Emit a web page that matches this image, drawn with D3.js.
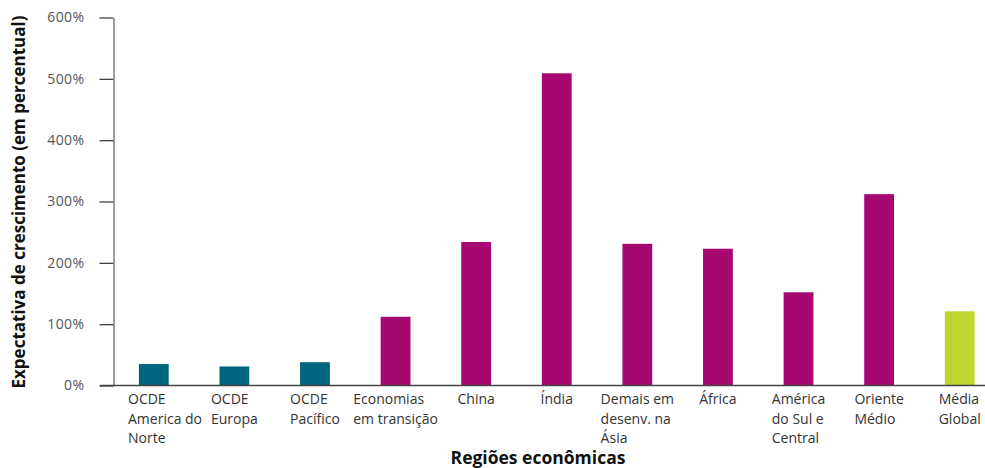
<!DOCTYPE html>
<html>
<head>
<meta charset="utf-8">
<script src="https://cdn.jsdelivr.net/npm/d3@7"></script>
<style>
  body { margin: 0; background: #fff; }
  svg { display: block; font-family: "Open Sans", sans-serif; }
</style>
</head>
<body>
<svg id="chart" width="985" height="468"></svg>
<script>
// regions and expected growth (%)
const regions = [
    "OCDE America do Norte", "OCDE Europa", "OCDE Pacífico", "Economias em transição",
    "China", "Índia", "Demais em desenv. na Ásia", "África",
    "América do Sul e Central", "Oriente Médio", "Média Global"
];
const labelLines = [
    ["OCDE", "America do", "Norte"], ["OCDE", "Europa"], ["OCDE", "Pacífico"],
    ["Economias", "em transição"], ["China"], ["Índia"], ["Demais em", "desenv. na", "Ásia"],
    ["África"], ["América", "do Sul e", "Central"], ["Oriente", "Médio"], ["Média", "Global"]
];
const growth = [35, 31, 38, 112, 234, 509, 231, 223, 152, 312, 121];
const groups = ["ocde", "ocde", "ocde", "dev", "dev", "dev", "dev", "dev", "dev", "dev", "global"];
const yTicks = [0, 100, 200, 300, 400, 500, 600];

const groupColor = { ocde: "#00667e", dev: "#a50870", global: "#bfd531" };

const svg = d3.select("#chart");

const x = d3.scaleBand()
    .domain(regions)
    .range([113.5, 1000])
    .paddingInner(0.63)
    .paddingOuter(0.315);

const y = d3.scaleLinear()
    .domain([0, 600])
    .range([385.5, 17.5]);

// y axis
const yAxis = svg.append("g")
    .attr("transform", "translate(113.5,0)")
    .call(d3.axisLeft(y).tickValues(yTicks).tickFormat(d => d + "%")
        .tickSize(14).tickSizeOuter(0).tickPadding(15));
yAxis.select(".domain").attr("stroke", "#666").attr("stroke-width", 1.3);
yAxis.selectAll(".tick line").attr("stroke", "#444").attr("stroke-width", 1.3);
yAxis.selectAll(".tick text")
    .attr("fill", "#555")
    .style("font-size", "14px")
    .style("letter-spacing", "0.4px")
    .style("font-family", "'Open Sans', sans-serif");

// bars
svg.append("g")
    .selectAll("rect")
    .data(regions)
    .join("rect")
    .attr("x", d => x(d))
    .attr("width", x.bandwidth())
    .attr("y", (d, i) => y(growth[i]))
    .attr("height", (d, i) => y(0) - y(growth[i]))
    .attr("fill", (d, i) => groupColor[groups[i]]);

// x axis line
svg.append("line")
    .attr("x1", 100).attr("x2", 985)
    .attr("y1", y(0)).attr("y2", y(0))
    .attr("stroke", "#444")
    .attr("stroke-width", 1.3);

// category labels: block centered on the bar, lines left aligned
const measure = svg.append("text").style("font-size", "14px");
const labels = svg.append("g").attr("fill", "#333").style("font-size", "14px");
regions.forEach((r, i) => {
    const lines = labelLines[i];
    let w = 0;
    lines.forEach(l => {
        measure.text(l);
        w = Math.max(w, measure.node().getComputedTextLength());
    });
    const cx = x(r) + x.bandwidth() / 2;
    const x0 = Math.max(cx - w / 2, 128);
    const t = labels.append("text").attr("x", x0).attr("y", 404);
    lines.forEach((l, j) => {
        t.append("tspan").attr("x", x0).attr("dy", j === 0 ? 0 : 19.5).text(l);
    });
});
measure.remove();

// axis titles
svg.append("text")
    .attr("x", 538).attr("y", 464)
    .attr("text-anchor", "middle")
    .style("font-size", "17.5px")
    .style("font-weight", "bold")
    .attr("fill", "#111")
    .text("Regiões econômicas");

svg.append("text")
    .attr("transform", "translate(25,202) rotate(-90)")
    .attr("text-anchor", "middle")
    .style("font-size", "17px")
    .style("font-weight", "bold")
    .attr("fill", "#111")
    .text("Expectativa de crescimento (em percentual)");
</script>
</body>
</html>
